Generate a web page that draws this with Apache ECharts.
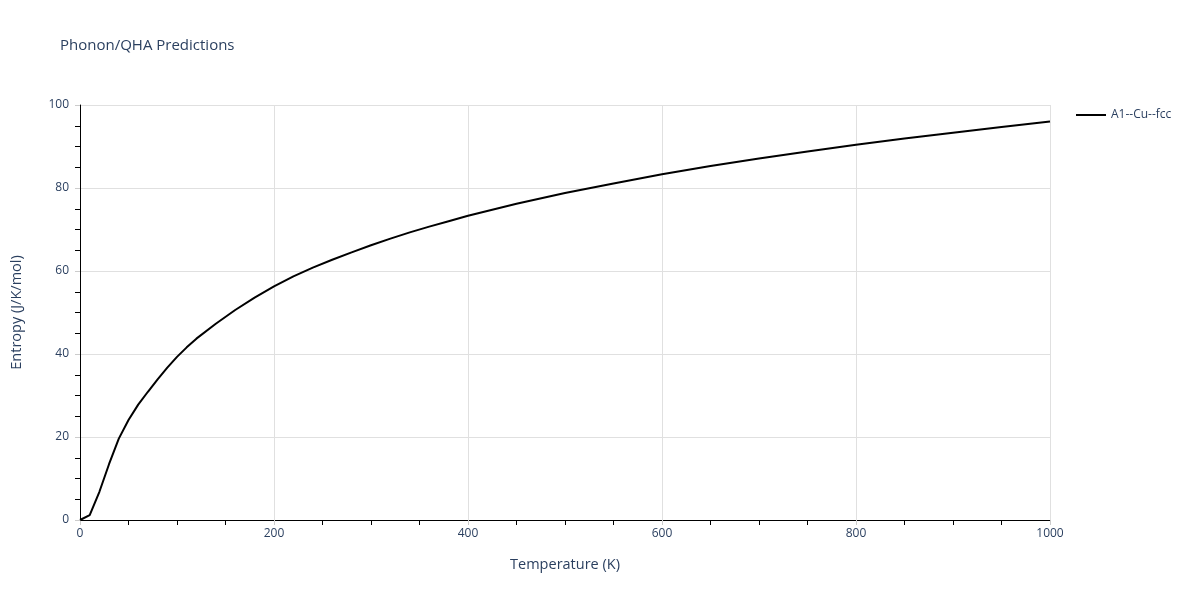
<!DOCTYPE html>
<html>
<head>
<meta charset="utf-8">
<script src="https://cdn.jsdelivr.net/npm/echarts@6/dist/echarts.min.js"></script>
<style>html,body{margin:0;padding:0;background:#fff}#c{width:1200px;height:600px}</style>
</head>
<body>
<div id="c"></div>
<script>
const seriesName = 'A1--Cu--fcc';
const temperature = [0,10,20,30,40,50,60,70,80,90,100,110,120,140,160,180,200,220,240,260,280,300,320,340,360,380,400,450,500,550,600,650,700,750,800,850,900,950,1000];
const entropy =     [0,1.2,6.8,13.5,19.6,24.1,27.8,30.9,33.9,36.7,39.3,41.6,43.7,47.3,50.6,53.6,56.3,58.7,60.8,62.7,64.5,66.2,67.8,69.3,70.7,72.0,73.3,76.2,78.8,81.1,83.3,85.3,87.1,88.8,90.4,91.9,93.3,94.7,96.0];
const xTicks = [0,200,400,600,800,1000];
const yTicks = [0,20,40,60,80,100];

const textColor = '#2a3f5f';
const font = '"Open Sans", "Noto Sans", sans-serif';
const chart = echarts.init(document.getElementById('c'), null, {renderer:'canvas'});
chart.setOption({
  animation:false,
  backgroundColor:'#fff',
  title:{text:'Phonon/QHA Predictions', left:55, top:33,
    textStyle:{color:textColor, fontSize:15, fontWeight:'normal', fontFamily:font}},
  legend:{left:1071, top:104, itemWidth:30, itemHeight:10, icon:'path://M0,4 L30,4 L30,6 L0,6 Z',
    textStyle:{color:textColor, fontSize:12, fontFamily:font},
    data:[{name:seriesName, itemStyle:{color:'#000'}}]},
  grid:{left:80, right:150, top:105, bottom:80, containLabel:false},
  xAxis:{type:'value', min:0, max:1000, interval:200,
    name:'Temperature (K)', nameLocation:'middle', nameGap:37,
    nameTextStyle:{color:textColor, fontSize:14.5, fontFamily:font},
    axisLine:{show:true, lineStyle:{color:'#000', width:1}},
    axisTick:{show:true, length:5, lineStyle:{color:'#ccc'}},
    minorTick:{show:true, splitNumber:4, length:5, lineStyle:{color:'#000'}},
    axisLabel:{color:textColor, fontSize:12, fontFamily:font, margin:8,
      formatter:v=>xTicks.includes(v)?String(v):''},
    splitLine:{show:true, lineStyle:{color:'#e0e0e0', width:1}}},
  yAxis:{type:'value', min:0, max:100, interval:20,
    name:'Entropy (J/K/mol)', nameLocation:'middle', nameGap:56,
    nameTextStyle:{color:textColor, fontSize:14.5, fontFamily:font},
    axisLine:{show:true, lineStyle:{color:'#000', width:1}},
    axisTick:{show:true, length:5, lineStyle:{color:'#ccc'}},
    minorTick:{show:true, splitNumber:4, length:5, lineStyle:{color:'#000'}},
    axisLabel:{color:textColor, fontSize:12, fontFamily:font, margin:11,
      formatter:v=>yTicks.includes(v)?String(v):''},
    splitLine:{show:true, lineStyle:{color:'#e0e0e0', width:1}}},
  series:[{name:seriesName, type:'line', showSymbol:false, symbol:'none',
    lineStyle:{color:'#000', width:2}, itemStyle:{color:'#000'},
    data:temperature.map((t,i)=>[t, entropy[i]])}]
});
</script>
</body>
</html>
